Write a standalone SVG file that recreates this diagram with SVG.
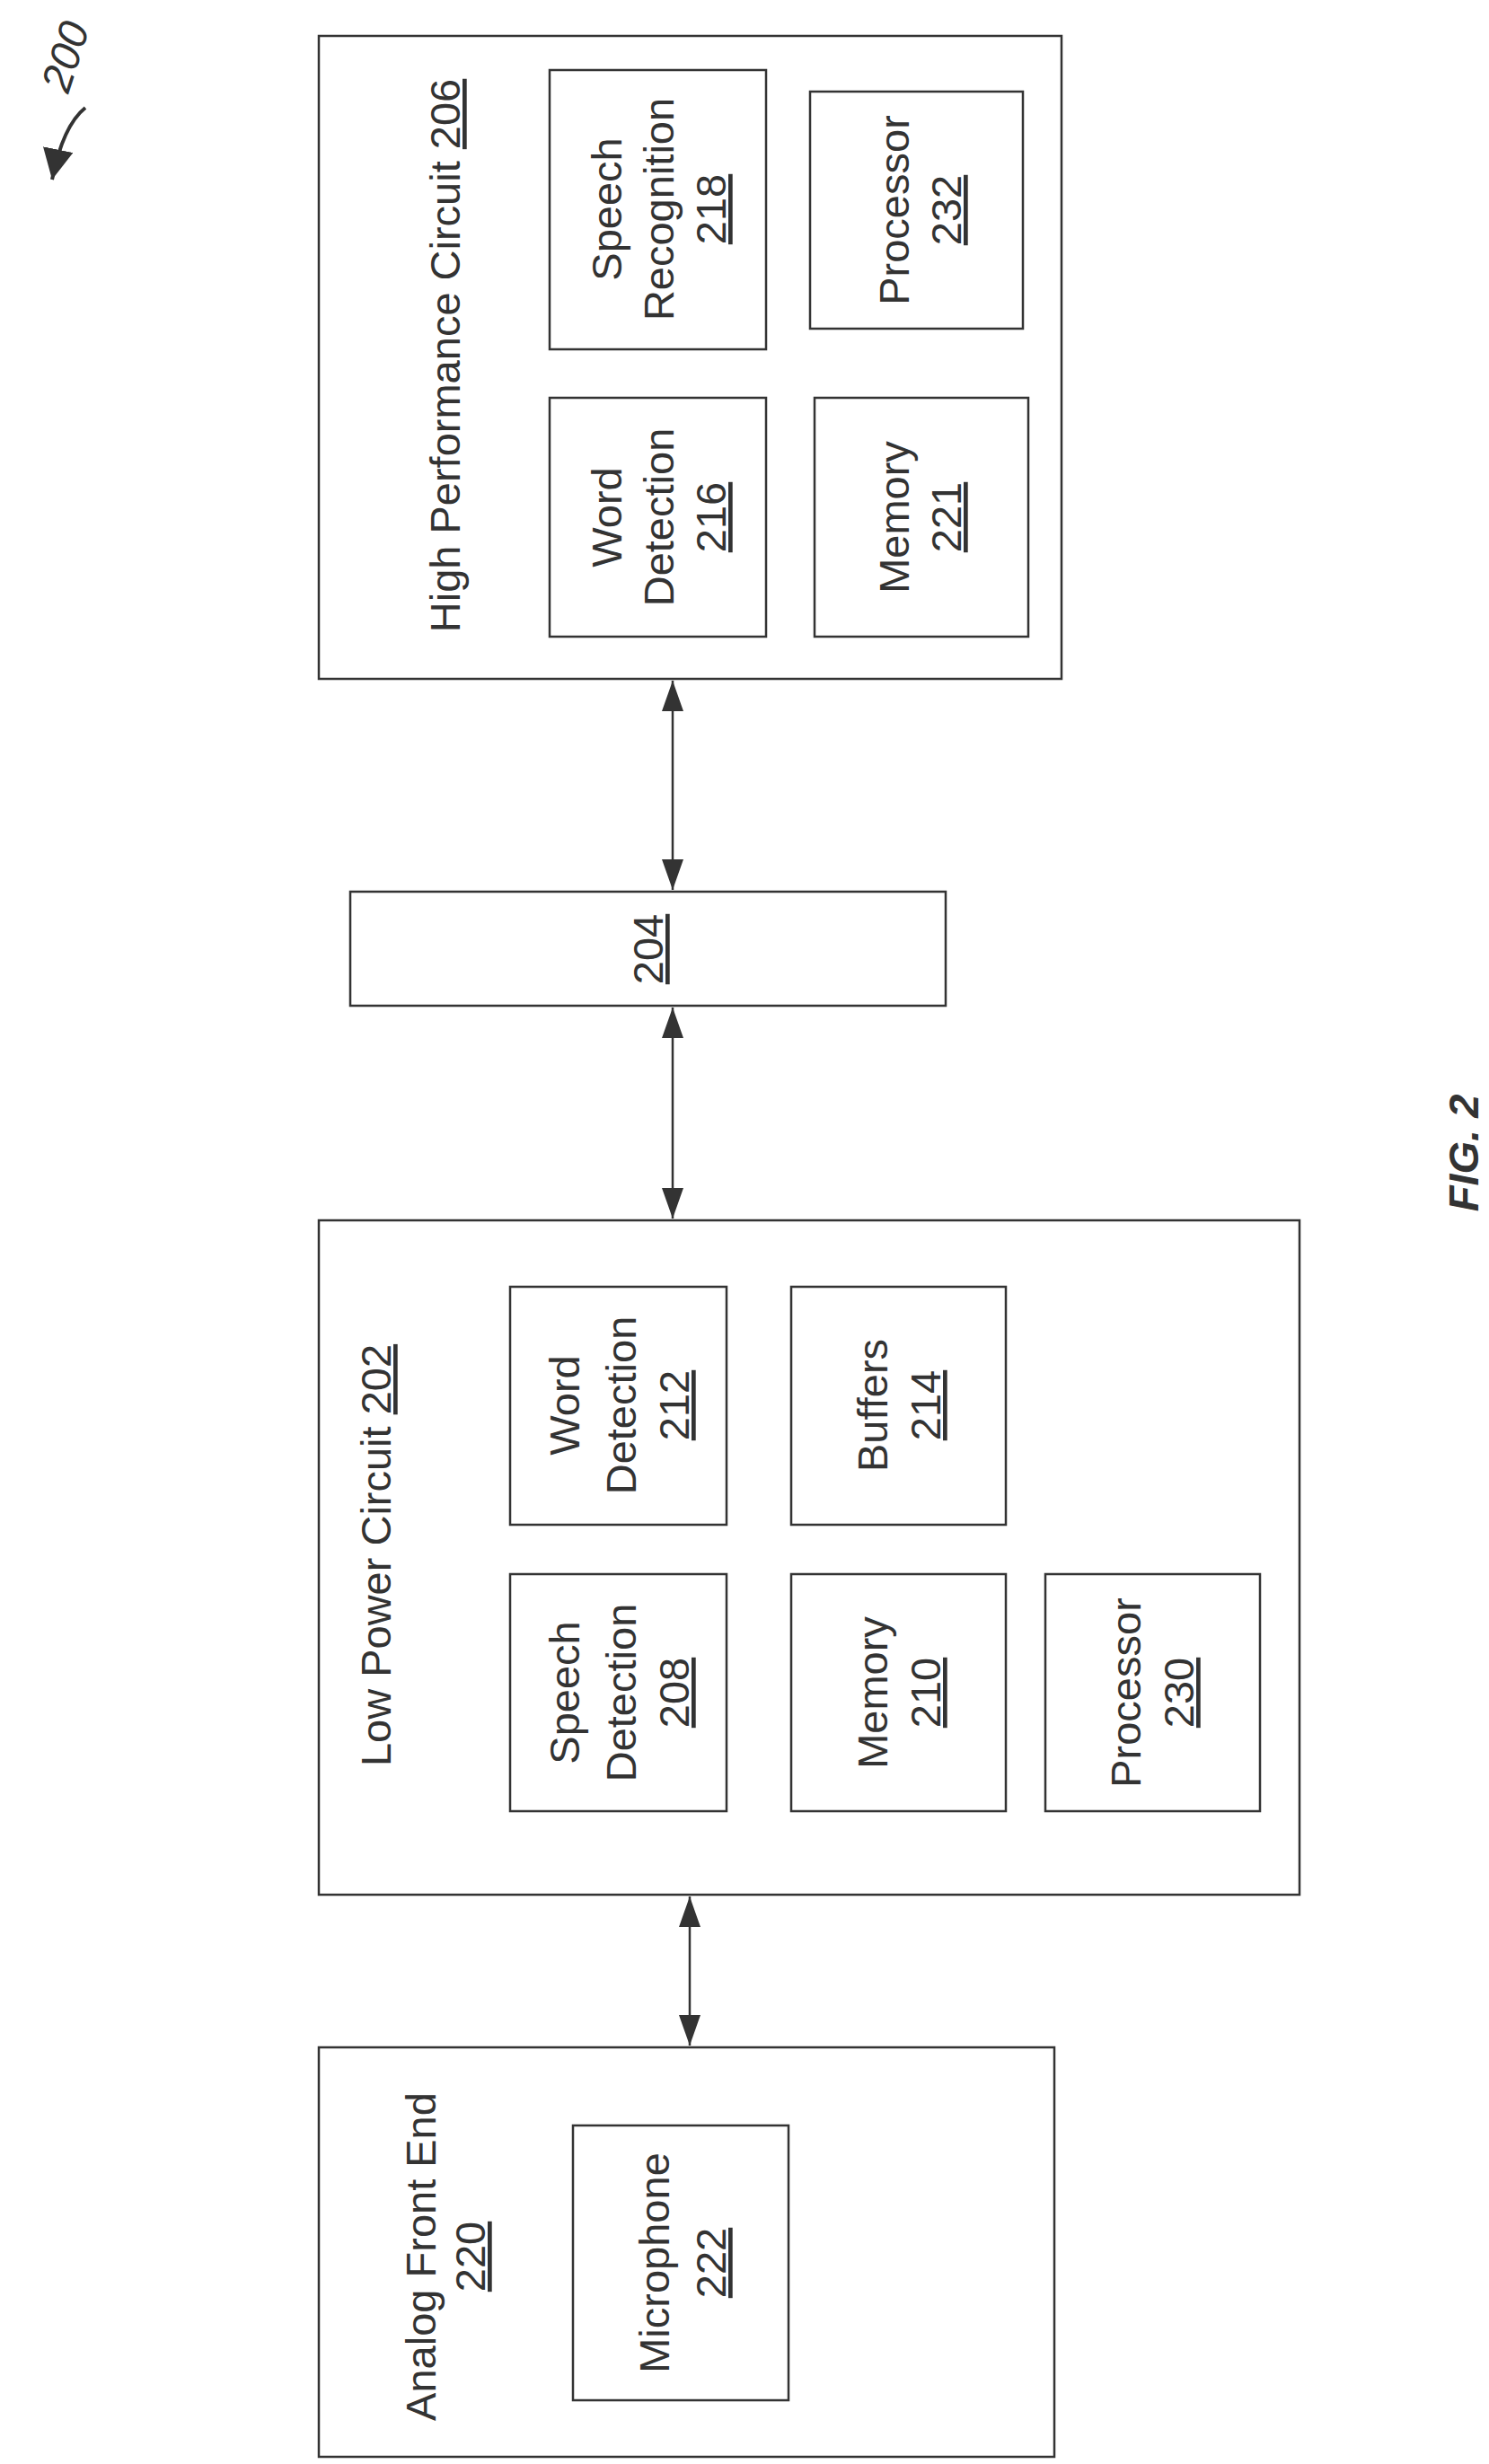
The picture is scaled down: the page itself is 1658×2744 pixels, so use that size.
<svg xmlns="http://www.w3.org/2000/svg" width="1658" height="2744" viewBox="0 0 1658 2744">
<style>
rect{fill:none;stroke:#333;stroke-width:2.5}
text{font-family:"Liberation Sans",Arial,sans-serif;font-size:47px;fill:#333;text-anchor:middle}
.u{text-decoration:underline}
</style>
<defs>
<marker id="ah" viewBox="0 0 10 10" refX="10" refY="5" markerWidth="34" markerHeight="34" markerUnits="userSpaceOnUse" orient="auto"><path d="M0,0 L10,5 L0,10 z" fill="#333"/></marker>
</defs>
<g id="ref200">
<text transform="translate(88,68) rotate(-72)" font-style="italic" font-size="44">200</text>
<path d="M95,120 Q70,140 58,200" stroke="#333" stroke-width="4" fill="none" marker-end="url(#ah)"/>
</g>
<g id="connectors">
<line x1="749" y1="758" x2="749" y2="991" stroke="#333" stroke-width="2.5"/>
<path d="M749,758 l-12,34 h24 z M749,991 l-12,-34 h24 z" fill="#333"/>
<line x1="749" y1="1122" x2="749" y2="1357" stroke="#333" stroke-width="2.5"/>
<path d="M749,1122 l-12,34 h24 z M749,1357 l-12,-34 h24 z" fill="#333"/>
<line x1="768" y1="2112" x2="768" y2="2278" stroke="#333" stroke-width="2.5"/>
<path d="M768,2112 l-12,34 h24 z M768,2278 l-12,-34 h24 z" fill="#333"/>
</g>
<g id="n206">
<rect x="355" y="40" width="827" height="716"/>
<text transform="translate(512,396) rotate(-90)">High Performance Circuit <tspan class="u">206</tspan></text>
</g>
<g id="n218"><rect x="612" y="78" width="241" height="311"/>
<text transform="translate(692,233) rotate(-90)">Speech</text>
<text transform="translate(750,233) rotate(-90)">Recognition</text>
<text transform="translate(808,233) rotate(-90)" class="u">218</text></g>
<g id="n232"><rect x="902" y="102" width="237" height="264"/>
<text transform="translate(1012,234) rotate(-90)">Processor</text>
<text transform="translate(1070,234) rotate(-90)" class="u">232</text></g>
<g id="n216"><rect x="612" y="443" width="241" height="266"/>
<text transform="translate(692,576) rotate(-90)">Word</text>
<text transform="translate(750,576) rotate(-90)">Detection</text>
<text transform="translate(808,576) rotate(-90)" class="u">216</text></g>
<g id="n221"><rect x="907" y="443" width="238" height="266"/>
<text transform="translate(1012,576) rotate(-90)">Memory</text>
<text transform="translate(1070,576) rotate(-90)" class="u">221</text></g>
<g id="n204"><rect x="390" y="993" width="663" height="127"/>
<text transform="translate(738,1057) rotate(-90)" class="u">204</text></g>
<g id="n202"><rect x="355" y="1359" width="1092" height="751"/>
<text transform="translate(435,1732) rotate(-90)">Low Power Circuit <tspan class="u">202</tspan></text></g>
<g id="n212"><rect x="568" y="1433" width="241" height="265"/>
<text transform="translate(645,1565) rotate(-90)">Word</text>
<text transform="translate(708,1565) rotate(-90)">Detection</text>
<text transform="translate(767,1565) rotate(-90)" class="u">212</text></g>
<g id="n214"><rect x="881" y="1433" width="239" height="265"/>
<text transform="translate(988,1565) rotate(-90)">Buffers</text>
<text transform="translate(1047,1565) rotate(-90)" class="u">214</text></g>
<g id="n208"><rect x="568" y="1753" width="241" height="264"/>
<text transform="translate(645,1885) rotate(-90)">Speech</text>
<text transform="translate(708,1885) rotate(-90)">Detection</text>
<text transform="translate(767,1885) rotate(-90)" class="u">208</text></g>
<g id="n210"><rect x="881" y="1753" width="239" height="264"/>
<text transform="translate(988,1885) rotate(-90)">Memory</text>
<text transform="translate(1047,1885) rotate(-90)" class="u">210</text></g>
<g id="n230"><rect x="1164" y="1753" width="239" height="264"/>
<text transform="translate(1270,1885) rotate(-90)">Processor</text>
<text transform="translate(1329,1885) rotate(-90)" class="u">230</text></g>
<g id="n220"><rect x="355" y="2280" width="819" height="456"/>
<text transform="translate(485,2513) rotate(-90)">Analog Front End</text>
<text transform="translate(540,2513) rotate(-90)" class="u">220</text></g>
<g id="n222"><rect x="638" y="2367" width="240" height="306"/>
<text transform="translate(745,2520) rotate(-90)">Microphone</text>
<text transform="translate(808,2520) rotate(-90)" class="u">222</text></g>
<g id="fig"><text transform="translate(1646,1284) rotate(-90)" font-size="84" font-weight="bold" font-style="italic">FIG. 2</text></g>
</svg>
